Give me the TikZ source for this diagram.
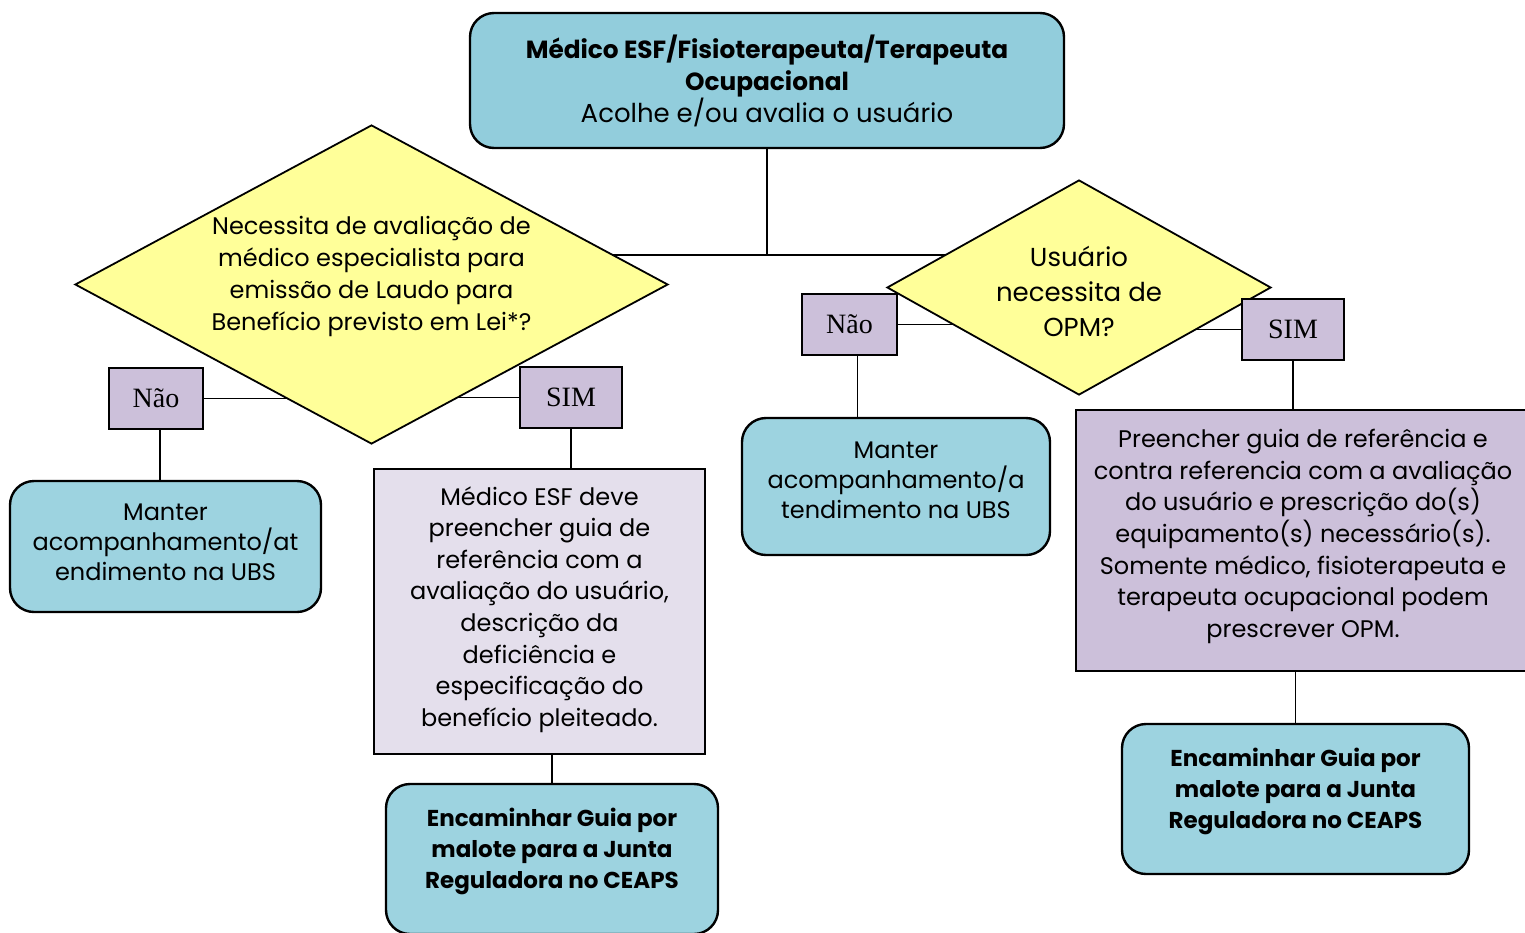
\documentclass[tikz,border=0pt]{standalone}
\usepackage{fontspec}
\setmainfont{Poppins}
\newfontfamily\lblfont{Liberation Serif}
\usetikzlibrary{shapes.geometric}
\pgfdeclarelayer{background}
\pgfsetlayers{background,main}
\definecolor{topblue}{HTML}{92CDDC}
\definecolor{boxblue}{HTML}{9DD3E0}
\definecolor{lav}{HTML}{CCC0DA}
\definecolor{lavlight}{HTML}{E4DFEC}
\definecolor{yel}{HTML}{FFFF99}
\tikzset{
  base/.style={draw=black, line width=1.2pt, align=center, inner sep=2pt},
  rbox/.style={base, rounded corners=12pt, fill=boxblue},
  sqbox/.style={base, fill=lavlight},
  dia/.style={base, diamond, fill=yel, inner sep=0pt, aspect=1.8, line width=0.9pt},
  yn/.style={base, fill=lav, font=\lblfont\fontsize{14}{16}\selectfont, line width=0.9pt},
  txt/.style={align=center, inner sep=0pt, font=\fontsize{12}{15.8}\selectfont},
  boldtxt/.style={txt, font=\bfseries\fontsize{11.5}{15.5}\selectfont},
  conn/.style={draw=black, line width=0.9pt}
}
\begin{document}
\begin{tikzpicture}[x=0.5pt,y=-0.5pt]
\useasboundingbox (0,0) rectangle (1525,932);
% top
\node[rbox, fill=topblue, minimum width=297pt, minimum height=67.5pt, font=\fontsize{13}{16}\selectfont] (top) at (767,80.5)
  {{\fontsize{12.4}{16}\selectfont\bfseries Médico ESF/Fisioterapeuta/Terapeuta}\\{\fontsize{12.4}{16}\selectfont\bfseries Ocupacional}\\Acolhe e/ou avalia o usuário};
% diamonds
\node[dia, minimum width=296.5pt, minimum height=159.5pt] (d1) at (371.5,284.5) {};
\node[txt, font=\fontsize{12}{16}\selectfont] (d1t) at ([yshift=4pt]d1.center)
  {Necessita de avaliação de\\médico especialista para\\emissão de Laudo para\\Benefício previsto em Lei*?};
\node[dia, minimum width=192pt, minimum height=107.5pt] (d2) at (1079,287.5) {};
\node[txt, font=\fontsize{13}{17.5}\selectfont] (d2t) at ([yshift=-2pt]d2.center)
  {Usuário\\necessita de\\OPM?};
% yes/no labels
\node[yn, minimum width=47pt, minimum height=30.5pt] (n1) at (156,398.5) {Não};
\node[yn, minimum width=51pt, minimum height=30.5pt] (s1) at (571,397.5) {SIM};
\node[yn, minimum width=47.5pt, minimum height=30.5pt] (n2) at (849.5,324.5) {Não};
\node[yn, minimum width=51pt, minimum height=30.5pt] (s2) at (1293,329.5) {SIM};
% outcome boxes
\node[rbox, minimum width=155.5pt, minimum height=65.5pt] (m1) at (165.5,546.5) {};
\node[txt, font=\fontsize{12}{15}\selectfont] (m1t) at ([yshift=2pt]m1.center)
  {Manter\\acompanhamento/at\\endimento na UBS};
\node[rbox, minimum width=154pt, minimum height=68.5pt] (m2) at (896,486.5) {};
\node[txt, font=\fontsize{12}{15}\selectfont] (m2t) at ([yshift=3pt]m2.center)
  {Manter\\acompanhamento/a\\tendimento na UBS};
\node[sqbox, minimum width=165.5pt, minimum height=142.5pt] (g1) at (539.5,611.5) {};
\node[txt] (g1t) at ([yshift=1pt]g1.center)
  {Médico ESF deve\\preencher guia de\\referência com a\\avaliação do usuário,\\descrição da\\deficiência e\\especificação do\\benefício pleiteado.};
\node[sqbox, fill=lav, minimum width=227pt, minimum height=130.5pt] (p) at (1303,540.5) {};
\node[txt] (pt) at ([yshift=2pt]p.center)
  {Preencher guia de referência e\\contra referencia com a avaliação\\do usuário e prescrição do(s)\\equipamento(s) necessário(s).\\Somente médico, fisioterapeuta e\\terapeuta ocupacional podem\\prescrever OPM.};
\node[rbox, minimum width=166pt, minimum height=75pt] (e1) at (552,859) {};
\node[boldtxt] (e1t) at ([yshift=4pt]e1.center)
  {Encaminhar Guia por\\malote para a Junta\\Reguladora no CEAPS};
\node[rbox, minimum width=173.5pt, minimum height=75pt] (e2) at (1295.5,799) {};
\node[boldtxt] (e2t) at ([yshift=4pt]e2.center)
  {Encaminhar Guia por\\malote para a Junta\\Reguladora no CEAPS};
% connectors
\coordinate (j) at (top.south |- 0,255);
\draw[conn] (top.south) -- (j);
\begin{pgfonlayer}{background}
\draw[conn] (d1.center |- j) -- (d2.center |- j);
\draw[conn] (n1.east) -- (d1.center |- n1.east);
\draw[conn] (s1.west) -- (d1.center |- s1.west);
\draw[conn] (n2.east) -- (d2.center |- n2.east);
\draw[conn] (s2.west) -- (d2.center |- s2.west);
\end{pgfonlayer}
\draw[conn] ([xshift=2pt]n1.south) -- ([xshift=2pt]n1.south |- m1.north);
\draw[conn] (s1.south) -- (s1.south |- g1.north);
\draw[conn] (e1.north |- g1.south) -- (e1.north);
\draw[conn] ([xshift=4pt]n2.south) -- ([xshift=4pt]n2.south |- m2.north);
\draw[conn] (s2.south) -- (s2.south |- p.north);
\draw[conn] (e2.north |- p.south) -- (e2.north);
\end{tikzpicture}
\end{document}
